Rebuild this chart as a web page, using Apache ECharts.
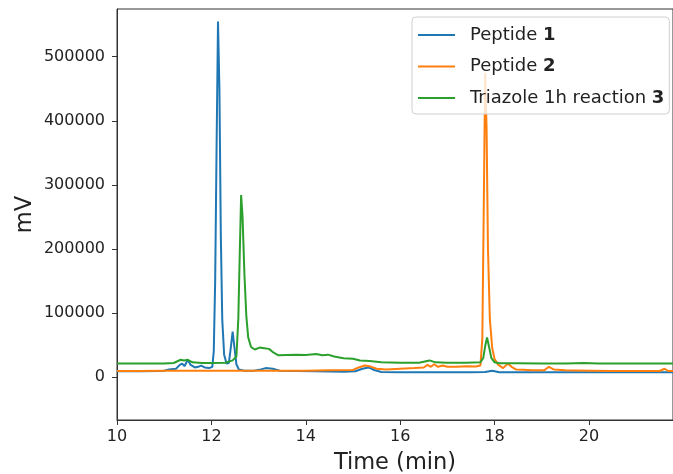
<!DOCTYPE html>
<html>
<head>
<meta charset="utf-8">
<script src="https://cdn.jsdelivr.net/npm/echarts@6/dist/echarts.min.js"></script>
<style>html,body{margin:0;padding:0;background:#fff;}#chart{width:673px;height:474px;}</style>
</head>
<body>
<div id="chart"></div>
<script>
// Series names
const seriesNames = ['Peptide 1', 'Peptide 2', 'Triazole 1h reaction 3'];

// Peptide 1 chromatogram: [time (min), mV]
const peptide1 = [
  [10.0, 9000], [10.5, 9000], [10.9, 9500], [11.0, 10000], [11.1, 12000], [11.25, 13000],
  [11.33, 19000], [11.38, 21000], [11.43, 17000], [11.5, 27000], [11.56, 19000],
  [11.65, 15000], [11.72, 16000], [11.78, 18000], [11.86, 15000], [11.95, 14000],
  [12.02, 16000], [12.05, 40000], [12.08, 150000], [12.11, 360000], [12.14, 555000],
  [12.17, 450000], [12.2, 220000], [12.23, 90000], [12.27, 35000], [12.32, 21000],
  [12.37, 22000], [12.41, 45000], [12.45, 71000], [12.49, 45000], [12.53, 20000],
  [12.58, 12000], [12.7, 10000], [12.9, 10000], [13.05, 12000], [13.15, 14000],
  [13.3, 13000], [13.45, 10000], [13.8, 9500], [14.2, 9000], [14.8, 8500], [15.05, 9000],
  [15.2, 13000], [15.33, 15000], [15.45, 11000], [15.6, 8000], [16.0, 7500], [16.5, 7500],
  [17.0, 7500], [17.5, 7500], [17.8, 8000], [17.95, 10000], [18.1, 7500], [18.5, 7500],
  [19.0, 7500], [19.5, 7500], [20.0, 7500], [20.5, 7500], [21.0, 7500], [21.5, 7500], [21.8, 7500]
];

// Peptide 2 chromatogram
const peptide2 = [
  [10.0, 9500], [10.5, 9500], [11.0, 10000], [11.5, 10000], [12.0, 10000], [12.5, 10000],
  [13.0, 10000], [13.5, 10000], [14.0, 10000], [14.5, 10500], [15.0, 11000], [15.12, 15000],
  [15.25, 18000], [15.35, 17000], [15.5, 13000], [15.7, 12000], [16.0, 13000], [16.3, 14000],
  [16.5, 15000], [16.58, 19000], [16.65, 16000], [16.72, 20000], [16.8, 16000], [16.9, 18000],
  [17.0, 16000], [17.2, 16000], [17.4, 17000], [17.6, 16500], [17.7, 18000], [17.74, 60000],
  [17.77, 260000], [17.8, 475000], [17.83, 390000], [17.86, 200000], [17.9, 90000],
  [17.95, 45000], [18.0, 28000], [18.08, 19000], [18.18, 14000], [18.28, 21000], [18.36, 16000],
  [18.45, 12000], [18.6, 11500], [18.8, 10500], [19.05, 10500], [19.15, 16000], [19.25, 12000],
  [19.5, 10500], [20.0, 10000], [20.5, 9500], [21.0, 9500], [21.5, 9500], [21.6, 13000],
  [21.68, 9500], [21.8, 9500]
];

// Triazole 1h reaction 3 chromatogram
const triazole3 = [
  [10.0, 21000], [10.5, 21000], [11.0, 21000], [11.2, 22000], [11.35, 27000], [11.42, 26000],
  [11.5, 27000], [11.6, 23000], [11.8, 22000], [12.0, 22000], [12.3, 22500], [12.45, 26000],
  [12.53, 32000], [12.57, 90000], [12.6, 190000], [12.63, 284000], [12.66, 250000],
  [12.7, 160000], [12.74, 95000], [12.78, 62000], [12.84, 47000], [12.92, 43000],
  [13.02, 46000], [13.12, 45000], [13.22, 44000], [13.32, 38000], [13.42, 34000],
  [13.6, 34500], [13.8, 35000], [14.0, 34500], [14.22, 36000], [14.35, 34000], [14.47, 35000],
  [14.6, 32000], [14.8, 29500], [15.0, 28500], [15.15, 26000], [15.35, 25000], [15.6, 23000],
  [16.0, 22500], [16.4, 22500], [16.62, 26000], [16.75, 23000], [17.0, 22500], [17.4, 22500],
  [17.7, 23000], [17.76, 30000], [17.8, 48000], [17.84, 62000], [17.88, 48000],
  [17.93, 30000], [18.0, 23000], [18.1, 21500], [18.5, 21500], [19.0, 21000], [19.5, 21000],
  [19.9, 22000], [20.2, 21000], [20.5, 21000], [21.0, 21000], [21.5, 21000], [21.8, 21000]
];

// Tick values
const xTicks = [10, 12, 14, 16, 18, 20];
const yTicks = [0, 100000, 200000, 300000, 400000, 500000];

const colors = ['#1f77b4', '#ff7f0e', '#2ca02c'];
const FONT = 'DejaVu Sans';
const TXT = '#222';

const chart = echarts.init(document.getElementById('chart'), null, {renderer: 'canvas'});
const seriesData = [peptide1, peptide2, triazole3];

chart.setOption({
  animation: false,
  backgroundColor: '#fff',
  grid: {left: 117, right: 0, top: 9, bottom: 54, containLabel: false, outerBoundsMode: 'none',
    show: true, borderColor: '#333', borderWidth: 1, backgroundColor: 'transparent'},
  xAxis: {
    type: 'value', min: 10, max: 21.78,
    name: 'Time (min)', nameLocation: 'middle', nameGap: 32, nameMoveOverlap: false,
    nameTextStyle: {fontFamily: FONT, fontSize: 22.5, color: TXT},
    axisLine: {show: true, onZero: false, lineStyle: {color: '#333', width: 1}},
    axisTick: {show: true, inside: false, length: 5, customValues: xTicks, lineStyle: {color: '#333'}},
    axisLabel: {customValues: xTicks, fontFamily: FONT, fontSize: 16, color: TXT, margin: 9,
      formatter: v => String(v)},
    splitLine: {show: false}
  },
  yAxis: {
    type: 'value', min: -67000, max: 574500,
    name: 'mV', nameLocation: 'middle', nameGap: 80, nameMoveOverlap: false,
    nameTextStyle: {fontFamily: FONT, fontSize: 22.5, color: TXT},
    axisLine: {show: true, onZero: false, lineStyle: {color: '#333', width: 1}},
    axisTick: {show: true, inside: false, length: 5, customValues: yTicks, lineStyle: {color: '#333'}},
    axisLabel: {customValues: yTicks, fontFamily: FONT, fontSize: 16, color: TXT, margin: 12,
      formatter: v => String(Math.round(v))},
    splitLine: {show: false}
  },
  legend: {
    orient: 'vertical', left: 412, top: 17,
    padding: [8, 5, 6, 6], itemGap: 11.5,
    itemWidth: 37, itemHeight: 20,
    icon: 'path://M0,9 L37,9 L37,11 L0,11 Z',
    backgroundColor: 'rgba(255,255,255,0.8)', borderColor: '#d0d0d0', borderWidth: 1, borderRadius: 4,
    data: seriesNames,
    formatter: function (name) {
      const m = name.match(/^(.*) (\d+)$/);
      return m ? m[1] + ' {b|' + m[2] + '}' : name;
    },
    textStyle: {
      fontFamily: FONT, fontSize: 18, color: TXT, padding: [0, 0, 0, 10], lineHeight: 20,
      rich: {b: {fontFamily: FONT, fontSize: 18, fontWeight: 'bold', color: TXT, lineHeight: 20}}
    }
  },
  series: seriesNames.map((n, i) => ({
    name: n, type: 'line', data: seriesData[i], symbol: 'none', showSymbol: false,
    lineStyle: {color: colors[i], width: 2}, itemStyle: {color: colors[i]},
    smooth: false, clip: true, z: 2 + i
  }))
});
</script>
</body>
</html>
